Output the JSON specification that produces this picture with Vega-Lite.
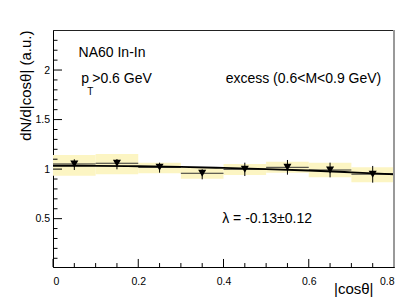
{
  "$schema": "https://vega.github.io/schema/vega-lite/v6.json",
  "width": 341,
  "height": 237,
  "autosize": {"type": "none"},
  "padding": {"left": 53, "top": 30, "right": 21, "bottom": 34},
  "background": "white",
  "config": {
    "view": {"stroke": "#222", "strokeWidth": 1},
    "axis": {"labelFont": "Liberation Sans", "titleFont": "Liberation Sans", "labelColor": "#000", "titleColor": "#000", "domainColor": "#000", "titleFontWeight": "normal"}
  },
  "datasets": {
    "pts": [
      {"x": 0.05, "xlo": 0.0, "xhi": 0.1, "y": 1.052, "elo": 0.991, "ehi": 1.099, "slo": 0.934, "shi": 1.143},
      {"x": 0.15, "xlo": 0.1, "xhi": 0.2, "y": 1.059, "elo": 0.998, "ehi": 1.102, "slo": 0.948, "shi": 1.153},
      {"x": 0.25, "xlo": 0.2, "xhi": 0.3, "y": 1.018, "elo": 0.964, "ehi": 1.065, "slo": 0.958, "shi": 1.065},
      {"x": 0.35, "xlo": 0.3, "xhi": 0.4, "y": 0.958, "elo": 0.897, "ehi": 0.998, "slo": 0.903, "shi": 1.018},
      {"x": 0.45, "xlo": 0.4, "xhi": 0.5, "y": 0.998, "elo": 0.930, "ehi": 1.065, "slo": 0.941, "shi": 1.052},
      {"x": 0.55, "xlo": 0.5, "xhi": 0.6, "y": 1.018, "elo": 0.944, "ehi": 1.092, "slo": 0.964, "shi": 1.075},
      {"x": 0.65, "xlo": 0.6, "xhi": 0.7, "y": 0.991, "elo": 0.917, "ehi": 1.065, "slo": 0.917, "shi": 1.065},
      {"x": 0.75, "xlo": 0.7, "xhi": 0.8, "y": 0.949, "elo": 0.863, "ehi": 1.032, "slo": 0.867, "shi": 1.018}
    ],
    "fit": [
      {"x": 0.0, "y": 1.034}, {"x": 0.1, "y": 1.033}, {"x": 0.2, "y": 1.029},
      {"x": 0.3, "y": 1.022}, {"x": 0.4, "y": 1.012}, {"x": 0.5, "y": 1.0},
      {"x": 0.6, "y": 0.986}, {"x": 0.7, "y": 0.968}, {"x": 0.8, "y": 0.948}
    ],
    "xticks": [
      {"xt": 0, "yb": 0.012, "yt": 0.093}, {"xt": 0.2, "yb": 0.012, "yt": 0.093}, {"xt": 0.4, "yb": 0.012, "yt": 0.093}, {"xt": 0.6, "yb": 0.012, "yt": 0.093}, {"xt": 0.8, "yb": 0.012, "yt": 0.093},
      {"xt": 0.05, "yb": 0.012, "yt": 0.052}, {"xt": 0.1, "yb": 0.012, "yt": 0.052}, {"xt": 0.15, "yb": 0.012, "yt": 0.052},
      {"xt": 0.25, "yb": 0.012, "yt": 0.052}, {"xt": 0.3, "yb": 0.012, "yt": 0.052}, {"xt": 0.35, "yb": 0.012, "yt": 0.052},
      {"xt": 0.45, "yb": 0.012, "yt": 0.052}, {"xt": 0.5, "yb": 0.012, "yt": 0.052}, {"xt": 0.55, "yb": 0.012, "yt": 0.052},
      {"xt": 0.65, "yb": 0.012, "yt": 0.052}, {"xt": 0.7, "yb": 0.012, "yt": 0.052}, {"xt": 0.75, "yb": 0.012, "yt": 0.052}
    ],
    "ymaj": [{"v": 0.5}, {"v": 1}, {"v": 1.5}, {"v": 2}],
    "ymin": [{"v": 0.1}, {"v": 0.2}, {"v": 0.3}, {"v": 0.4}, {"v": 0.6}, {"v": 0.7}, {"v": 0.8}, {"v": 0.9}, {"v": 1.1}, {"v": 1.2}, {"v": 1.3}, {"v": 1.4}, {"v": 1.6}, {"v": 1.7}, {"v": 1.8}, {"v": 1.9}, {"v": 2.1}, {"v": 2.2}, {"v": 2.3}]
  },
  "resolve": {"axis": {"x": "independent", "y": "independent"}},
  "layer": [
    {
      "data": {"name": "pts"},
      "mark": {"type": "rect", "color": "#fcf5c3"},
      "encoding": {
        "x": {"field": "xlo", "type": "quantitative", "scale": {"domain": [0, 0.8], "nice": false, "zero": false}, "axis": null},
        "x2": {"field": "xhi"},
        "y": {"field": "slo", "type": "quantitative", "scale": {"domain": [0.012, 2.404], "nice": false, "zero": false}, "axis": null},
        "y2": {"field": "shi"}
      }
    },
    {
      "data": {"name": "ymin"},
      "mark": {"type": "tick", "orient": "horizontal", "size": 4.5, "thickness": 1, "color": "#000", "opacity": 1, "xOffset": 2.25},
      "encoding": {
        "y": {"field": "v", "type": "quantitative", "axis": null},
        "x": {"datum": 0, "type": "quantitative", "axis": null}
      }
    },
    {
      "data": {"name": "ymaj"},
      "mark": {"type": "tick", "orient": "horizontal", "size": 9, "thickness": 1, "color": "#000", "opacity": 1, "xOffset": 4.5},
      "encoding": {
        "y": {"field": "v", "type": "quantitative", "axis": null},
        "x": {"datum": 0, "type": "quantitative", "axis": null}
      }
    },
    {
      "data": {"name": "pts"},
      "mark": {"type": "rule", "color": "#333", "strokeWidth": 1},
      "encoding": {
        "x": {"field": "xlo", "type": "quantitative", "axis": null},
        "x2": {"field": "xhi"},
        "y": {"field": "y", "type": "quantitative", "axis": null}
      }
    },
    {
      "data": {"name": "pts"},
      "mark": {"type": "rule", "color": "#000", "strokeWidth": 1},
      "encoding": {
        "x": {"field": "x", "type": "quantitative", "axis": null},
        "y": {"field": "elo", "type": "quantitative", "axis": null},
        "y2": {"field": "ehi"}
      }
    },
    {
      "data": {"name": "xticks"},
      "mark": {"type": "rule", "color": "#000", "strokeWidth": 1},
      "encoding": {
        "x": {"field": "xt", "type": "quantitative", "axis": null},
        "y": {"field": "yb", "type": "quantitative", "axis": null},
        "y2": {"field": "yt"}
      }
    },
    {
      "data": {"name": "fit"},
      "mark": {"type": "line", "color": "#000", "strokeWidth": 1.8, "interpolate": "monotone"},
      "encoding": {
        "x": {"field": "x", "type": "quantitative", "axis": null},
        "y": {"field": "y", "type": "quantitative", "axis": null}
      }
    },
    {
      "data": {"name": "pts"},
      "mark": {"type": "point", "shape": "triangle-down", "filled": true, "color": "#000", "size": 65, "opacity": 1},
      "encoding": {
        "x": {"field": "x", "type": "quantitative",
              "axis": {"orient": "bottom", "grid": false, "values": [0, 0.2, 0.4, 0.6, 0.8], "format": "~g", "ticks": false, "labelPadding": 9, "labelFontSize": 10.5,
                       "title": "|cosθ|", "titleFontSize": 15, "titleAnchor": "end", "titleAlign": "right", "titleX": 320, "titleY": 26, "titleBaseline": "alphabetic"}},
        "y": {"field": "y", "type": "quantitative",
              "axis": {"orient": "left", "grid": false, "values": [0.5, 1, 1.5, 2], "format": "~g", "ticks": false, "labelPadding": 3.5, "labelFontSize": 10.5,
                       "title": "dN/d|cosθ| (a.u.)", "titleFontSize": 15, "titleAngle": -90, "titleAlign": "right", "titleX": -23, "titleY": 0, "titleBaseline": "alphabetic"}}
      }
    },
    {
      "data": {"values": [{"x": 0.8}]},
      "mark": {"type": "rule", "color": "#999", "strokeWidth": 2},
      "encoding": {"x": {"field": "x", "type": "quantitative", "axis": null}}
    },
    {
      "data": {"values": [{"x": 0.06, "y": 2.134, "t": "NA60 In-In"}, {"x": 0.0665, "y": 1.866, "t": "p"}, {"x": 0.092, "y": 1.866, "t": ">0.6 GeV"}, {"x": 0.405, "y": 1.866, "t": "excess (0.6<M<0.9 GeV)"}, {"x": 0.397, "y": 0.456, "t": "λ = -0.13±0.12"}]},
      "mark": {"type": "text", "align": "left", "baseline": "alphabetic", "fontSize": 14, "font": "Liberation Sans", "color": "#000"},
      "encoding": {
        "x": {"field": "x", "type": "quantitative", "axis": null},
        "y": {"field": "y", "type": "quantitative", "axis": null},
        "text": {"field": "t"}
      }
    },
    {
      "data": {"values": [{"x": 0.0802, "y": 1.745, "t": "T"}]},
      "mark": {"type": "text", "align": "left", "baseline": "alphabetic", "fontSize": 10, "font": "Liberation Sans", "color": "#000"},
      "encoding": {
        "x": {"field": "x", "type": "quantitative", "axis": null},
        "y": {"field": "y", "type": "quantitative", "axis": null},
        "text": {"field": "t"}
      }
    }
  ]
}
